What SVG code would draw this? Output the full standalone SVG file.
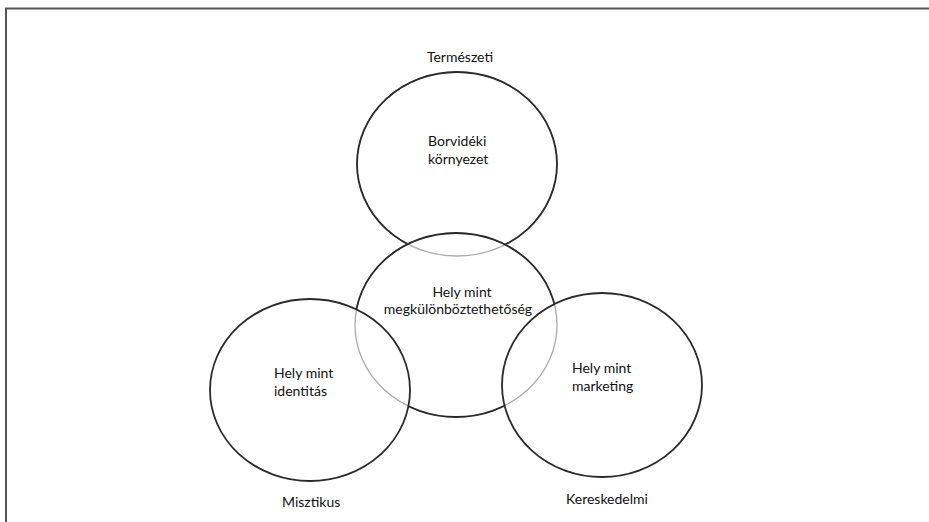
<svg xmlns="http://www.w3.org/2000/svg" width="929" height="522" viewBox="0 0 929 522">
<style>
.t{font-family:Lato,"Open Sans","Liberation Sans",sans-serif;font-size:14px;fill:#111}
.c{fill:none;stroke:#2a2a2a;stroke-width:1.8}
.g{fill:none;stroke:#aaa;stroke-width:1.3}
</style>
<defs>
<mask id="mTop" maskUnits="userSpaceOnUse" x="0" y="0" width="929" height="522">
<rect width="929" height="522" fill="#fff"/>
<ellipse cx="456" cy="325" rx="101" ry="92" fill="#000"/>
</mask>
<mask id="mMid" maskUnits="userSpaceOnUse" x="0" y="0" width="929" height="522">
<rect width="929" height="522" fill="#fff"/>
<ellipse cx="310" cy="390" rx="100" ry="91" fill="#000"/>
<ellipse cx="602" cy="385" rx="100" ry="92" fill="#000"/>
</mask>
</defs>
<rect width="929" height="522" fill="#fff"/>
<path d="M6 522 V8.5 H929" fill="none" stroke="#555" stroke-width="2"/>
<g id="top">
<ellipse class="g" cx="457" cy="164" rx="100" ry="92"/>
<ellipse class="c" cx="457" cy="164" rx="100" ry="92" mask="url(#mTop)"/>
<text class="t" x="428" y="146">Borvidéki</text>
<text class="t" x="428" y="164">környezet</text>
</g>
<g id="center">
<ellipse class="g" cx="456" cy="325" rx="101" ry="92"/>
<ellipse class="c" cx="456" cy="325" rx="101" ry="92" mask="url(#mMid)"/>
<text class="t" x="462" y="297" text-anchor="middle">Hely mint</text>
<text class="t" x="458" y="314" text-anchor="middle">megkülönböztethetőség</text>
</g>
<g id="left">
<ellipse class="c" cx="310" cy="390" rx="100" ry="91"/>
<text class="t" x="274" y="378">Hely mint</text>
<text class="t" x="274" y="396">identitás</text>
</g>
<g id="right">
<ellipse class="c" cx="602" cy="385" rx="100" ry="92"/>
<text class="t" x="572" y="373">Hely mint</text>
<text class="t" x="572" y="391">marketing</text>
</g>
<g id="labels">
<text class="t" x="460" y="62" text-anchor="middle">Természeti</text>
<text class="t" x="282" y="507">Misztikus</text>
<text class="t" x="566" y="504">Kereskedelmi</text>
</g>
<g id="connectors"></g>
</svg>
